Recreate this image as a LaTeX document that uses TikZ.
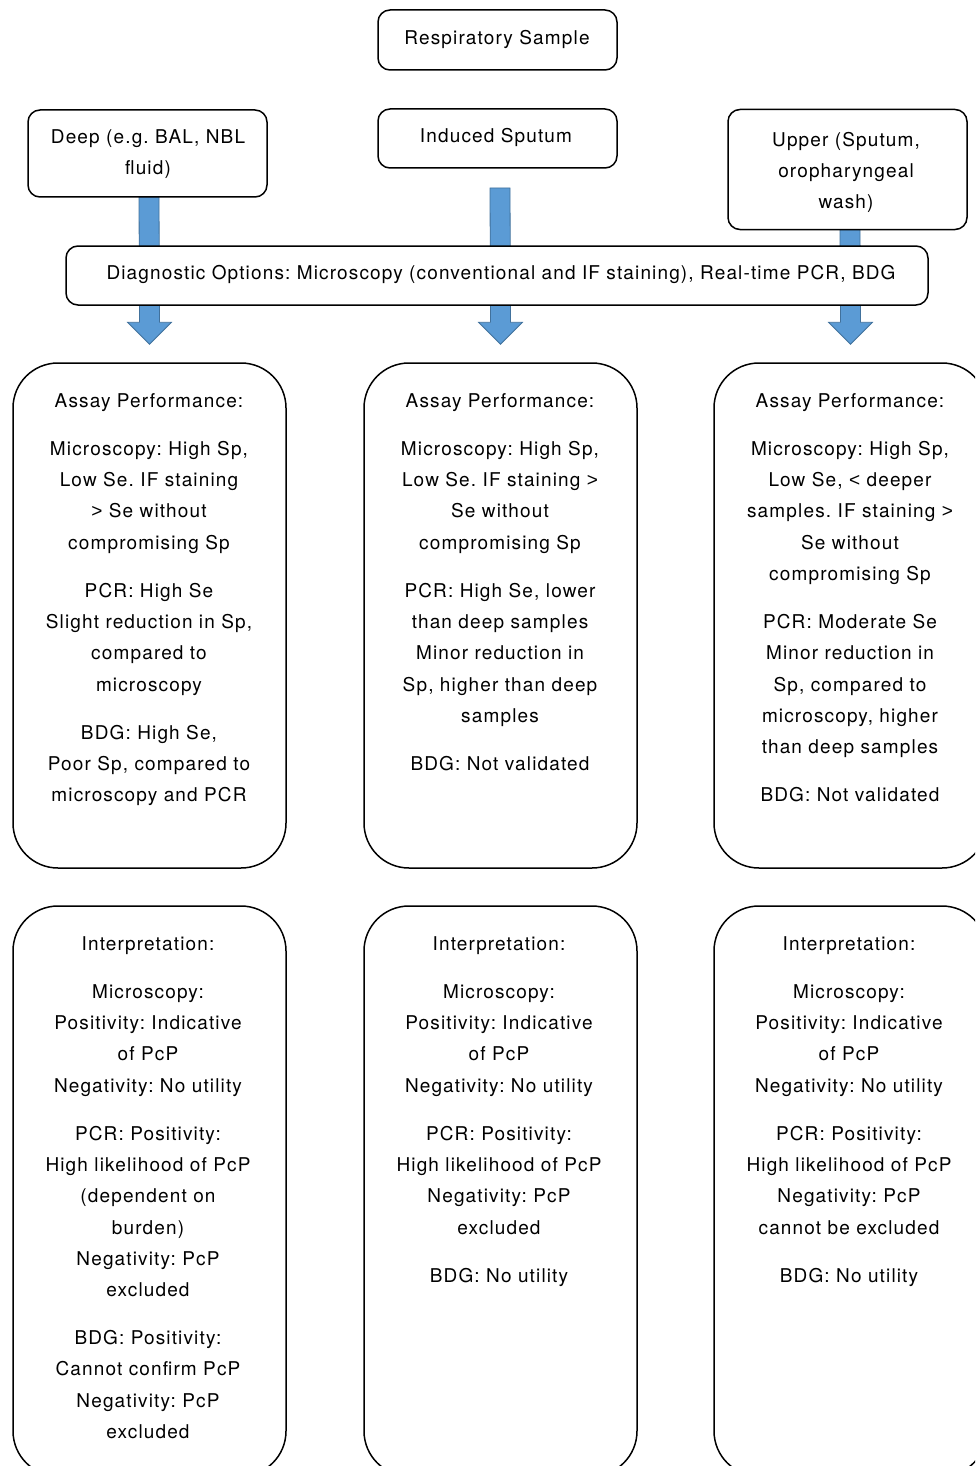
\documentclass[tikz,border=0pt]{standalone}
\usepackage{fontspec}
\setmainfont{TeX Gyre Heros}[LetterSpace=6]
\newfontfamily\symf{Liberation Sans}
\usetikzlibrary{calc}
\definecolor{arrowfill}{HTML}{5B9BD5}
\definecolor{arrowline}{HTML}{41719C}
\tikzset{
  topbox/.style={draw, line width=1.5pt, rounded corners=12pt, fill=white, inner sep=0pt},
  bigbox/.style={draw, line width=1.5pt, rounded corners=45pt, inner sep=0pt},
  txt/.style={anchor=north, inner sep=0pt, align=center, font=\fontsize{19}{31.3}\selectfont},
  blockarrow/.style={fill=arrowfill, draw=arrowline, line width=0.8pt},
}
\newcommand{\fl}{\rule{0pt}{15pt}}
\newcommand{\LT}{{\symf <}}
\newcommand{\GT}{{\symf >}}
\frenchspacing
\begin{document}
\begin{tikzpicture}[x=1pt, y=-1pt]
\useasboundingbox (0,0) rectangle (975,1466);
\clip (0,0) rectangle (975,1466);

% big boxes
\node[bigbox, minimum width=273pt, minimum height=505pt] (assayL) at (149.5,615.5) {};
\node[bigbox, minimum width=273pt, minimum height=505pt] (assayM) at (500.5,615.5) {};
\node[bigbox, minimum width=273pt, minimum height=505pt] (assayR) at (850.5,615.5) {};
\node[bigbox, minimum width=273pt, minimum height=570pt] (interpL) at (149.5,1191) {};
\node[bigbox, minimum width=273pt, minimum height=570pt] (interpM) at (500.5,1191) {};
\node[bigbox, minimum width=273pt, minimum height=570pt] (interpR) at (850.5,1191) {};

% arrows
\coordinate (tL) at ($(assayL.north)+(0,-18)$);
\coordinate (tM) at ($(assayM.north)+(0,-18)$);
\coordinate (tR) at ($(assayR.north)+(0,-18)$);
\coordinate (sL) at (149,197);
\coordinate (sM) at (500,188);
\coordinate (sR) at (850,229);
\foreach \s/\t in {sL/tL, sM/tM, sR/tR}{
  \draw[blockarrow] ($(\s)+(-10,0)$) -- ($(\s)+(10,0)$) -- ($(\t)+(10,-22)$) -- ($(\t)+(22,-22)$) -- (\t) -- ($(\t)+(-22,-22)$) -- ($(\t)+(-10,-22)$) -- cycle;
}

% top boxes
\node[topbox, minimum width=239pt, minimum height=60pt] (resp) at (497.5,40) {};
\node[topbox, minimum width=239pt, minimum height=87pt] (deep) at (147.5,153.5) {};
\node[topbox, minimum width=239pt, minimum height=59pt] (ind) at (497.5,138.5) {};
\node[topbox, minimum width=239pt, minimum height=120pt] (up) at (847.5,169.5) {};
\node[topbox, minimum width=862pt, minimum height=59pt] (diag) at (497,275.5) {};

\node[txt] (tResp) at (497,29) {\fl Respiratory Sample};
\node[txt] (tDeep) at (148,128) {\fl Deep (e.g. BAL, NBL\\fluid)};
\node[txt] (tInd) at (496,127) {\fl Induced Sputum};
\node[txt] (tUp) at (846,131) {\fl Upper (Sputum,\\oropharyngeal\\wash)};
\node[txt] (tDiag) at (501,264) {\fl Diagnostic Options: Microscopy (conventional and IF staining), Real-time PCR, BDG};

% assay texts
\node[txt] (tAL) at (149,392) {\fl Assay Performance:\\[16.7pt]
Microscopy: High Sp,\\Low Se. IF staining\\\GT{} Se without\\compromising Sp\\[16.7pt]
PCR: High Se\\Slight reduction in Sp,\\compared to\\microscopy\\[16.7pt]
BDG: High Se,\\Poor Sp, compared to\\microscopy and PCR};

\node[txt] (tAM) at (500,392) {\fl Assay Performance:\\[16.7pt]
Microscopy: High Sp,\\Low Se. IF staining \GT\\Se without\\compromising Sp\\[16.7pt]
PCR: High Se, lower\\than deep samples\\Minor reduction in\\Sp, higher than deep\\samples\\[16.7pt]
BDG: Not validated};

\node[txt] (tAR) at (850,392) {\fl Assay Performance:\\[16.7pt]
Microscopy: High Sp,\\Low Se, \LT{} deeper\\samples. IF staining \GT\\Se without\\compromising Sp\\[16.7pt]
PCR: Moderate Se\\Minor reduction in\\Sp, compared to\\microscopy, higher\\than deep samples\\[16.7pt]
BDG: Not validated};

% interpretation texts
\node[txt] (tIL) at (148,935) {\fl Interpretation:\\[16.7pt]
Microscopy:\\Positivity: Indicative\\of PcP\\Negativity: No utility\\[16.7pt]
PCR: Positivity:\\High likelihood of PcP\\(dependent on\\burden)\\Negativity: PcP\\excluded\\[16.7pt]
BDG: Positivity:\\Cannot confirm PcP\\Negativity: PcP\\excluded};

\node[txt] (tIM) at (499,935) {\fl Interpretation:\\[16.7pt]
Microscopy:\\Positivity: Indicative\\of PcP\\Negativity: No utility\\[16.7pt]
PCR: Positivity:\\High likelihood of PcP\\Negativity: PcP\\excluded\\[16.7pt]
BDG: No utility};

\node[txt] (tIR) at (849,935) {\fl Interpretation:\\[16.7pt]
Microscopy:\\Positivity: Indicative\\of PcP\\Negativity: No utility\\[16.7pt]
PCR: Positivity:\\High likelihood of PcP\\Negativity: PcP\\cannot be excluded\\[16.7pt]
BDG: No utility};
\end{tikzpicture}
\end{document}
